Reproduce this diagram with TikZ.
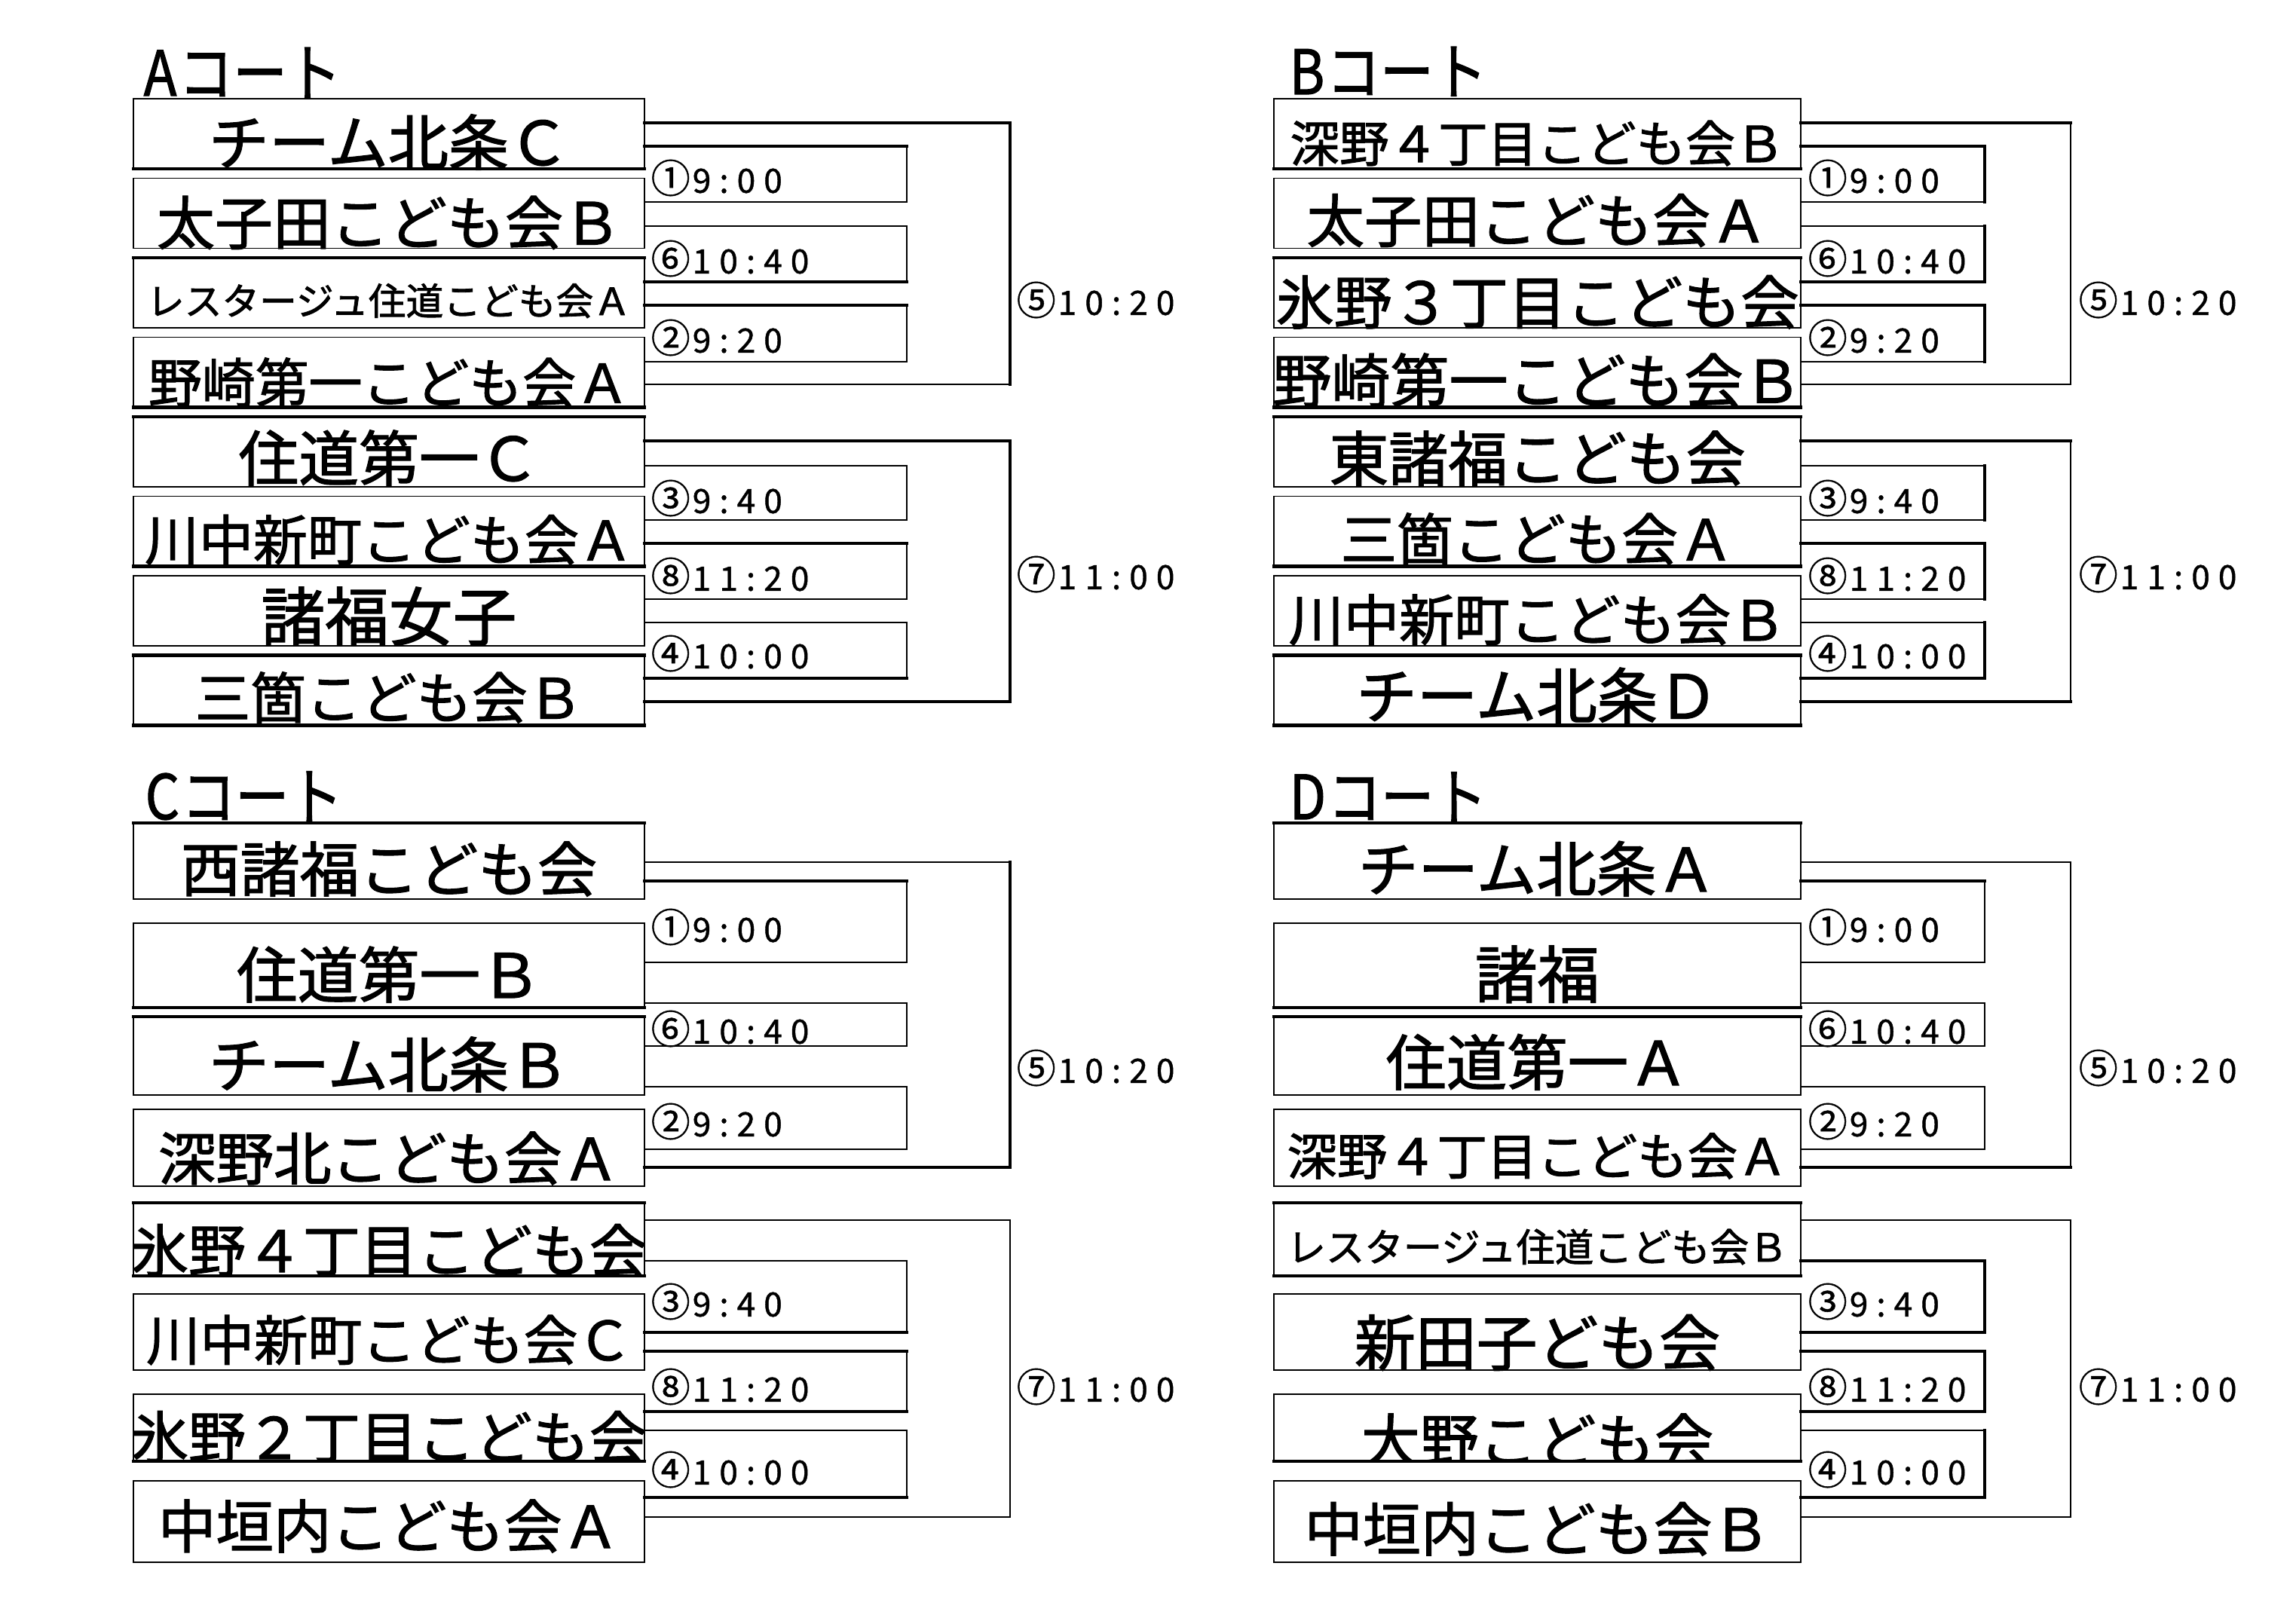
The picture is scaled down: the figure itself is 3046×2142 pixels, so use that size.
\documentclass[tikz,border=0pt]{standalone}
\usepackage{graphicx}
\usepackage{fontspec}
\setmainfont{Noto Sans CJK JP}
\newfontfamily\nmfont{Noto Sans CJK JP}[FakeBold=1.6]
\newfontfamily\tmfont{Noto Sans CJK JP}[FakeBold=1.0]
\newdimen\pxu \pxu=0.01cm
\newdimen\trk \trk=11\pxu
\def\spaceout#1{\ifx\relax#1\else#1\kern\trk\expandafter\spaceout\fi}
\tikzset{
  thn/.style={line width=0.4pt},
  mdm/.style={line width=0.75pt},
  thk/.style={line width=1.15pt},
  teamtext/.style={anchor=base, inner sep=0pt, font=\nmfont\fontsize{20}{24}\selectfont},
  timelbl/.style={anchor=west, inner sep=0pt, font=\tmfont},
  courttitle/.style={anchor=base west, inner sep=0pt, font=\nmfont\fontsize{20}{24}\selectfont},
}
% team box edges: x0,x1,top,bottom,topstyle,bottomstyle
\newcommand\tbox[6]{%
  \draw[thn] (#1,#3) -- (#1,#4);
  \draw[thn] (#2,#3) -- (#2,#4);
  \draw[#5] (#1,#3) -- (#2,#3);
  \draw[#6] (#1,#4) -- (#2,#4);
}
% team name: name, cx, baseline y, width, text
\newcommand\tname[5]{\node[teamtext] (#1) at (#2,#3) {\resizebox{#4\pxu}{!}{#5}};}
% bracket: x0,x1,ytop,ybot,topst,rightst,botst,name
\newcommand\brk[8]{%
  \coordinate (#8a) at (#1,#3);
  \coordinate (#8b) at (#2,#3);
  \coordinate (#8c) at (#2,#4);
  \coordinate (#8d) at (#1,#4);
  \draw[#5] (#8a) -- (#8b);
  \draw[#6] (#8b) -- (#8c);
  \draw[#7] (#8c) -- (#8d);
}
% time label: name, x, y, circled, time
\newcommand\tlab[5]{\node[timelbl] (#1) at (#2,#3) {{\fontsize{14.8}{16}\selectfont #4}\kern3\pxu{\fontsize{12.6}{14}\selectfont\spaceout#5\relax}};}
\begin{document}
\begin{tikzpicture}[x=0.01cm,y=-0.01cm,line cap=rect]
\useasboundingbox (0,0) rectangle (3046,2142);
\fill[white] (0,0) rectangle (3046,2142);

% ---------------- titles
\node[courttitle] (tA) at (190,127) {\resizebox{262\pxu}{!}{\scalebox{1}[1.15]{A\kern0.04em コート}}};
\node[courttitle] (tB) at (1710,125) {\resizebox{262\pxu}{!}{\scalebox{1}[1.15]{B\kern0.04em コート}}};
\node[courttitle] (tC) at (192,1087) {\resizebox{262\pxu}{!}{\scalebox{1}[1.15]{C\kern0.04em コート}}};
\node[courttitle] (tD) at (1710,1087) {\resizebox{262\pxu}{!}{\scalebox{1}[1.15]{D\kern0.04em コート}}};

% ---------------- A court brackets
\brk{855}{1340}{163}{510}{thk}{thk}{thn}{Ao1}
\brk{855}{1203}{194}{268}{thk}{thn}{thn}{Am1}
\brk{855}{1203}{300}{374}{thn}{thn}{thk}{Am6}
\brk{855}{1203}{405}{480}{thk}{thn}{thn}{Am2}
\brk{855}{1340}{585}{931}{thk}{thk}{thk}{Ao2}
\brk{855}{1203}{618}{690}{thn}{thn}{thn}{Am3}
\brk{855}{1203}{721}{795}{thk}{thn}{thn}{Am8}
\brk{855}{1203}{826}{900}{thn}{thn}{thk}{Am4}
% ---------------- B court brackets
\brk{2389}{2747}{163}{510}{thk}{thn}{thn}{Bo1}
\brk{2389}{2633}{194}{268}{thk}{thk}{thn}{Bm1}
\brk{2389}{2633}{300}{374}{thn}{thk}{thk}{Bm6}
\brk{2389}{2633}{405}{480}{thk}{thk}{thn}{Bm2}
\brk{2389}{2747}{585}{931}{thk}{thn}{thk}{Bo2}
\brk{2389}{2633}{618}{690}{thn}{thk}{thn}{Bm3}
\brk{2389}{2633}{721}{795}{thk}{thk}{thn}{Bm8}
\brk{2389}{2633}{826}{900}{thn}{thk}{thk}{Bm4}
% ---------------- C court brackets
\brk{855}{1340}{1144}{1549}{thn}{thk}{thk}{Co1}
\brk{855}{1203}{1169}{1277}{thk}{thn}{thn}{Cm1}
\brk{855}{1203}{1331}{1388}{thn}{thn}{mdm}{Cm6}
\brk{855}{1203}{1442}{1525}{thn}{thn}{mdm}{Cm2}
\brk{855}{1340}{1619}{2013}{thn}{thn}{thn}{Co2}
\brk{855}{1203}{1673}{1768}{thn}{thn}{thk}{Cm3}
\brk{855}{1203}{1793}{1873}{thk}{thn}{thk}{Cm8}
\brk{855}{1203}{1898}{1987}{thn}{thn}{thk}{Cm4}
% ---------------- D court brackets
\brk{2389}{2747}{1144}{1549}{thn}{thn}{thk}{Do1}
\brk{2389}{2633}{1169}{1277}{thk}{thn}{thn}{Dm1}
\brk{2389}{2633}{1331}{1388}{thn}{thn}{thn}{Dm6}
\brk{2389}{2633}{1442}{1525}{thn}{thn}{thn}{Dm2}
\brk{2389}{2747}{1619}{2013}{thn}{thn}{mdm}{Do2}
\brk{2389}{2633}{1673}{1768}{thk}{thk}{thk}{Dm3}
\brk{2389}{2633}{1793}{1873}{thk}{thk}{thk}{Dm8}
\brk{2389}{2633}{1898}{1987}{thn}{thk}{thk}{Dm4}

% ---------------- A court teams
\tname{A1}{516}{224-5}{478}{チーム北条Ｃ}
\tname{A2}{516}{329.5-5}{616}{太子田こども会Ｂ}
\tname{A3}{516}{435-17}{642}{レスタージュ住道こども会Ａ}
\tname{A4}{516}{540.5-6}{638}{野崎第一こども会Ａ}
\tname{A5}{516}{646-8}{399}{住道第一Ｃ}
\tname{A6}{516}{751.5-8}{648}{川中新町こども会Ａ}
\tname{A7}{516}{857-7}{339}{諸福女子}
\tname{A8}{516}{962.5-9}{514}{三箇こども会Ｂ}
\tbox{177}{855}{131}{224}{thn}{thk}
\tbox{177}{855}{236.5}{329.5}{thn}{thn}
\tbox{177}{855}{342}{435}{thk}{mdm}
\tbox{177}{855}{447.5}{540.5}{thn}{thk}
\tbox{177}{855}{553}{646}{thk}{thn}
\tbox{177}{855}{658.5}{751.5}{thn}{thk}
\tbox{177}{855}{764}{857}{thn}{mdm}
\tbox{177}{855}{869.5}{962.5}{thk}{thk}

% ---------------- B court teams
\tname{B1}{2039.5}{224-9}{656}{深野４丁目こども会Ｂ}
\tname{B2}{2039.5}{329.5-8}{612}{太子田こども会Ａ}
\tname{B3}{2039.5}{435-5}{694}{氷野３丁目こども会}
\tname{B4}{2039.5}{540.5-6}{702}{野崎第一こども会Ｂ}
\tname{B5}{2039.5}{646-8}{552}{東諸福こども会}
\tname{B6}{2039.5}{751.5-8}{522}{三箇こども会Ａ}
\tname{B7}{2039.5}{857-7}{660}{川中新町こども会Ｂ}
\tname{B8}{2039.5}{962.5-9}{480}{チーム北条Ｄ}
\tbox{1690}{2389}{131}{224}{thn}{thk}
\tbox{1690}{2389}{236.5}{329.5}{thn}{thn}
\tbox{1690}{2389}{342}{435}{thk}{mdm}
\tbox{1690}{2389}{447.5}{540.5}{thn}{thk}
\tbox{1690}{2389}{553}{646}{thk}{thn}
\tbox{1690}{2389}{658.5}{751.5}{thn}{thk}
\tbox{1690}{2389}{764}{857}{thn}{mdm}
\tbox{1690}{2389}{869.5}{962.5}{thk}{thk}

% ---------------- C court teams
\tname{C1}{516}{1193-10}{552}{西諸福こども会}
\tname{C2}{516}{1337-13}{404}{住道第一Ｂ}
\tname{C3}{516}{1453-10}{478}{チーム北条Ｂ}
\tname{C4}{516}{1574-8}{612}{深野北こども会Ａ}
\begin{scope}
\clip (177,1596) rectangle (855,1693);
\tname{C5}{516}{1693-5}{684}{氷野４丁目こども会}
\end{scope}
\tname{C6}{516}{1818-13}{644}{川中新町こども会Ｃ}
\begin{scope}
\clip (177,1850) rectangle (855,1939);
\tname{C7}{516}{1939-3}{684}{氷野２丁目こども会}
\end{scope}
\tname{C8}{516}{2073-19}{612}{中垣内こども会Ａ}
\tbox{177}{855}{1092}{1193}{thk}{thn}
\tbox{177}{855}{1225}{1337}{thn}{thk}
\tbox{177}{855}{1349}{1453}{thk}{thn}
\tbox{177}{855}{1472}{1574}{thn}{thn}
\tbox{177}{855}{1596}{1693}{thk}{thk}
\tbox{177}{855}{1717}{1818}{thn}{thn}
\tbox{177}{855}{1850}{1939}{thn}{thk}
\tbox{177}{855}{1965}{2073}{thn}{thn}

% ---------------- D court teams
\tname{D1}{2039.5}{1193-10}{475}{チーム北条Ａ}
\tname{D2}{2039.5}{1337-13}{165}{諸福}
\tname{D3}{2039.5}{1453-13}{402}{住道第一Ａ}
\tname{D4}{2039.5}{1574-15}{664}{深野４丁目こども会Ａ}
\tname{D5}{2039.5}{1693-19}{664}{レスタージュ住道こども会Ｂ}
\tname{D6}{2039.5}{1818-6}{485}{新田子ども会}
\begin{scope}
\clip (1690,1850) rectangle (2389,1939);
\tname{D7}{2039.5}{1939+2}{467}{大野こども会}
\end{scope}
\tname{D8}{2039.5}{2073-15}{618}{中垣内こども会Ｂ}
\tbox{1690}{2389}{1092}{1193}{thk}{thn}
\tbox{1690}{2389}{1225}{1337}{thn}{thk}
\tbox{1690}{2389}{1349}{1453}{thk}{thn}
\tbox{1690}{2389}{1472}{1574}{thn}{thn}
\tbox{1690}{2389}{1596}{1693}{thk}{thk}
\tbox{1690}{2389}{1717}{1818}{thn}{thn}
\tbox{1690}{2389}{1850}{1939}{thn}{thk}
\tbox{1690}{2389}{1965}{2073}{thn}{thn}

% ---------------- time labels A
\tlab{LA1}{863}{236}{①}{9:00}
\tlab{LA6}{863}{343}{⑥}{10:40}
\tlab{LA2}{863}{448}{②}{9:20}
\tlab{LA5}{1348}{398}{⑤}{10:20}
\tlab{LA3}{863}{661}{③}{9:40}
\tlab{LA8}{863}{764}{⑧}{11:20}
\tlab{LA4}{863}{867}{④}{10:00}
\tlab{LA7}{1348}{762}{⑦}{11:00}
% ---------------- time labels B
\tlab{LB1}{2398}{236}{①}{9:00}
\tlab{LB6}{2398}{343}{⑥}{10:40}
\tlab{LB2}{2398}{448}{②}{9:20}
\tlab{LB5}{2757}{398}{⑤}{10:20}
\tlab{LB3}{2398}{661}{③}{9:40}
\tlab{LB8}{2398}{764}{⑧}{11:20}
\tlab{LB4}{2398}{867}{④}{10:00}
\tlab{LB7}{2757}{762}{⑦}{11:00}
% ---------------- time labels C
\tlab{LC1}{863}{1230}{①}{9:00}
\tlab{LC6}{863}{1365}{⑥}{10:40}
\tlab{LC2}{863}{1488}{②}{9:20}
\tlab{LC5}{1348}{1417}{⑤}{10:20}
\tlab{LC3}{863}{1727}{③}{9:40}
\tlab{LC8}{863}{1840}{⑧}{11:20}
\tlab{LC4}{863}{1950}{④}{10:00}
\tlab{LC7}{1348}{1840}{⑦}{11:00}
% ---------------- time labels D
\tlab{LD1}{2398}{1230}{①}{9:00}
\tlab{LD6}{2398}{1365}{⑥}{10:40}
\tlab{LD2}{2398}{1488}{②}{9:20}
\tlab{LD5}{2757}{1417}{⑤}{10:20}
\tlab{LD3}{2398}{1727}{③}{9:40}
\tlab{LD8}{2398}{1840}{⑧}{11:20}
\tlab{LD4}{2398}{1950}{④}{10:00}
\tlab{LD7}{2757}{1840}{⑦}{11:00}
\end{tikzpicture}
\end{document}
